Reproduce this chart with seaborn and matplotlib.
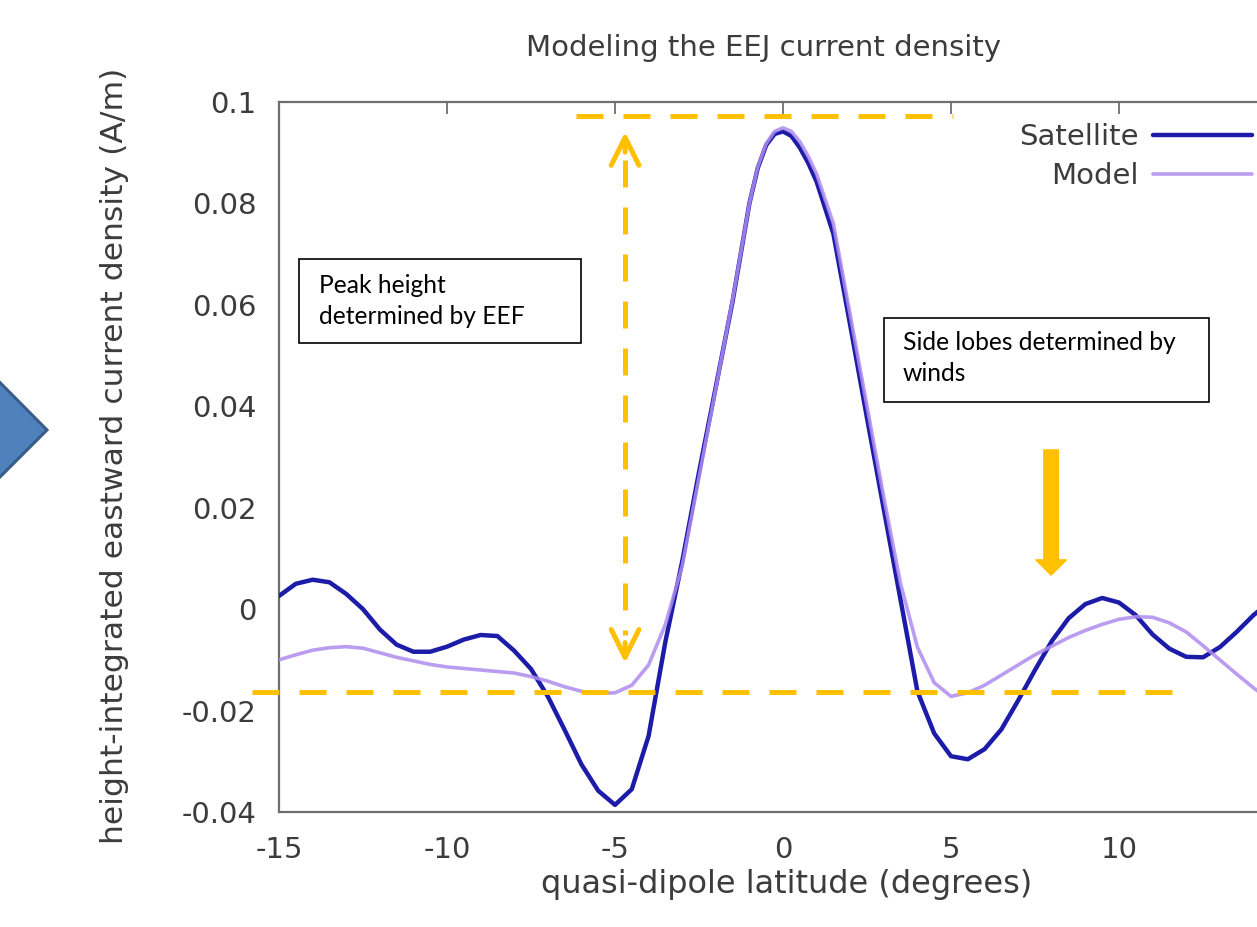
import numpy as np
import pandas as pd
import matplotlib
matplotlib.use("Agg")
import matplotlib.pyplot as plt
import seaborn as sns
from matplotlib.patches import Polygon, Rectangle, FancyArrowPatch

# Latitude grid (degrees, quasi-dipole); finer spacing around the jet peak
latitude = [-15.0, -14.5, -14.0, -13.5, -13.0, -12.5, -12.0, -11.5, -11.0, -10.5,
            -10.0, -9.5, -9.0, -8.5, -8.0, -7.5, -7.0, -6.5, -6.0, -5.5,
            -5.0, -4.5, -4.0, -3.5, -3.0, -2.5, -2.0, -1.5, -1.0, -0.75,
            -0.5, -0.25, 0.0, 0.25, 0.5, 0.75, 1.0, 1.5, 2.0, 2.5,
            3.0, 3.5, 4.0, 4.5, 5.0, 5.5, 6.0, 6.5, 7.0, 7.5,
            8.0, 8.5, 9.0, 9.5, 10.0, 10.5, 11.0, 11.5, 12.0, 12.5,
            13.0, 13.5, 14.0, 14.5]

# Height-integrated eastward current density (A/m)
satellite = [0.0026, 0.0050, 0.0058, 0.0053, 0.0030, 0.0000, -0.0040, -0.0070, -0.0084, -0.0084,
             -0.0074, -0.0060, -0.0051, -0.0053, -0.0082, -0.0118, -0.0172, -0.0238, -0.0306, -0.0358,
             -0.0386, -0.0355, -0.0250, -0.0064, 0.0094, 0.0270, 0.0438, 0.0607, 0.0800, 0.0870,
             0.0915, 0.0937, 0.0942, 0.0933, 0.0910, 0.0880, 0.0843, 0.0740, 0.0560, 0.0377,
             0.0197, 0.0018, -0.0162, -0.0245, -0.0290, -0.0296, -0.0276, -0.0237, -0.0180, -0.0120,
             -0.0063, -0.0018, 0.0010, 0.0022, 0.0013, -0.0012, -0.0050, -0.0078, -0.0094, -0.0095,
             -0.0075, -0.0045, -0.0012, 0.0015]

model = [-0.0100, -0.0090, -0.0081, -0.0076, -0.0074, -0.0077, -0.0086, -0.0095, -0.0102, -0.0109,
         -0.0114, -0.0117, -0.0120, -0.0123, -0.0126, -0.0133, -0.0142, -0.0153, -0.0162, -0.0166,
         -0.0165, -0.0150, -0.0110, -0.0030, 0.0085, 0.0260, 0.0435, 0.0610, 0.0800, 0.0872,
         0.0918, 0.0942, 0.0949, 0.0942, 0.0922, 0.0893, 0.0858, 0.0760, 0.0580, 0.0400,
         0.0220, 0.0050, -0.0075, -0.0145, -0.0172, -0.0165, -0.0150, -0.0130, -0.0110, -0.0090,
         -0.0073, -0.0056, -0.0042, -0.0030, -0.0020, -0.0015, -0.0016, -0.0027, -0.0045, -0.0072,
         -0.0100, -0.0128, -0.0155, -0.0180]

series_names = ["Satellite", "Model"]
series_colors = ["#1c1ca8", "#ae8cee"]
series_widths = [3.2, 2.6]

x_ticks = [-15, -10, -5, 0, 5, 10, 15]
x_ticklabels = ["-15", "-10", "-5", "0", "5", "10", ""]
y_ticks = [-0.04, -0.02, 0.0, 0.02, 0.04, 0.06, 0.08, 0.1]
y_ticklabels = ["-0.04", "-0.02", "0", "0.02", "0.04", "0.06", "0.08", "0.1"]

# Annotation anchors in data units
peak_level = 0.0972
floor_level = -0.0163
arrow_lat = -4.7
arrow_top, arrow_bottom = 0.0941, -0.0106
lobe_lat = 7.98
lobe_top, lobe_tip = 0.0314, 0.0067

df = pd.DataFrame({"latitude": latitude * 2,
                   "current": satellite + model,
                   "series": [series_names[0]] * len(latitude) + [series_names[1]] * len(latitude)})

sns.set_theme(style="white")
plt.rcParams["font.family"] = ["DejaVu Sans"]
plt.rcParams["axes.unicode_minus"] = False

W, H = 1257, 927
fig = plt.figure(figsize=(W / 100, H / 100), dpi=100)
fig.patch.set_facecolor("white")

def fx(px):
    return px / W

def fy(py):
    return 1 - py / H

ax = fig.add_axes([fx(279), fy(812), 1008 / W, 710 / H])
ax.set_facecolor("white")

for name, col, lw in zip(series_names, series_colors, series_widths):
    sub = df[df["series"] == name]
    sns.lineplot(data=sub, x="latitude", y="current", ax=ax, color=col, lw=lw,
                 label=name, zorder=3 if name == "Satellite" else 4,
                 alpha=1.0 if name == "Satellite" else 0.85)

ax.set_xlim(-15, 15)
ax.set_ylim(-0.04, 0.1)
ax.set_xticks(x_ticks)
ax.set_xticklabels(x_ticklabels)
ax.set_yticks(y_ticks)
ax.set_yticklabels(y_ticklabels)
ax.set_xlabel("")
ax.set_ylabel("")

text_col = "#3c3c3c"
for s in ax.spines.values():
    s.set_color("#6e6e6e")
    s.set_linewidth(1.6)
ax.tick_params(axis="both", direction="in", length=8.5, width=1.3, color="#6e6e6e",
               labelsize=21, labelcolor=text_col, top=True, right=True)
ax.tick_params(axis="y", pad=16)
ax.tick_params(axis="x", pad=17)

# Titles and axis labels
fig.text(fx(764), fy(48), "Modeling the EEJ current density", ha="center", va="center",
         fontsize=21, color=text_col)
fig.text(fx(787), fy(884), "quasi-dipole latitude (degrees)", ha="center", va="center",
         fontsize=23, color=text_col)
fig.text(fx(115), fy(456), "height-integrated eastward current density (A/m)", ha="center",
         va="center", rotation=90, fontsize=22.6, color=text_col)

# Key in the upper-right corner, labels before samples
leg = ax.legend(loc="upper right", bbox_to_anchor=(fx(1252), fy(123)), bbox_transform=fig.transFigure,
                frameon=False, markerfirst=False, handlelength=3.4, fontsize=21,
                labelspacing=0.37, handletextpad=0.5, borderaxespad=0, borderpad=0)
for t in leg.get_texts():
    t.set_color(text_col)

gold = "#FFC000"
dash_lw = 3.6
dash_pat = (0, (5.4, 4.0))

# Horizontal reference levels
ax.plot([-6.15, 5.05], [peak_level, peak_level], color=gold, lw=dash_lw, linestyle=dash_pat,
        dash_capstyle="butt", clip_on=False, zorder=5)
ax.plot([-15.8, 11.9], [floor_level, floor_level], color=gold, lw=dash_lw, linestyle=dash_pat,
        dash_capstyle="butt", clip_on=False, zorder=5)

# Double-headed dashed arrow for peak height
ax.plot([arrow_lat, arrow_lat], [arrow_top - 0.0055, arrow_bottom + 0.0055], color=gold,
        lw=dash_lw, linestyle=dash_pat, dash_capstyle="butt", zorder=5)
for tip, back in [(arrow_top, arrow_top - 0.004), (arrow_bottom, arrow_bottom + 0.004)]:
    ax.annotate("", xy=(arrow_lat, tip), xytext=(arrow_lat, back),
                arrowprops=dict(arrowstyle="->,head_length=1.0,head_width=0.5", color=gold,
                                lw=dash_lw, mutation_scale=20, shrinkA=0, shrinkB=0,
                                capstyle="round", joinstyle="round"), zorder=5)

# Solid arrow pointing at the side lobe
ax.add_patch(FancyArrowPatch((lobe_lat, lobe_top), (lobe_lat, lobe_tip),
                             arrowstyle="simple,head_length=11,head_width=22,tail_width=10.5",
                             mutation_scale=1, color=gold, shrinkA=0, shrinkB=0, zorder=5))

# Text boxes
def box(x0, y0, x1, y1, lines, tx, ty):
    fig.patches.append(Rectangle((fx(x0), fy(y1)), (x1 - x0) / W, (y1 - y0) / H,
                                 transform=fig.transFigure, facecolor="white",
                                 edgecolor="black", lw=1.2, zorder=6))
    fig.text(fx(tx), fy(ty), lines, ha="left", va="top", fontsize=17.7, color="black",
             family=["Lato", "DejaVu Sans"], linespacing=1.4, zorder=7)

box(299, 259, 581, 343, "Peak height\ndetermined by EEF", 319, 274)
box(884, 318, 1209, 402, "Side lobes determined by\nwinds", 903, 331)

# Chevron shape at the left edge
fig.patches.append(Polygon([(fx(-60), fy(322)), (fx(47), fy(430)), (fx(-60), fy(537))],
                           closed=True, transform=fig.transFigure, facecolor="#4f81bd",
                           edgecolor="#385d8a", lw=2.2, zorder=1))

fig.savefig("out.png", dpi=100, facecolor="white")
